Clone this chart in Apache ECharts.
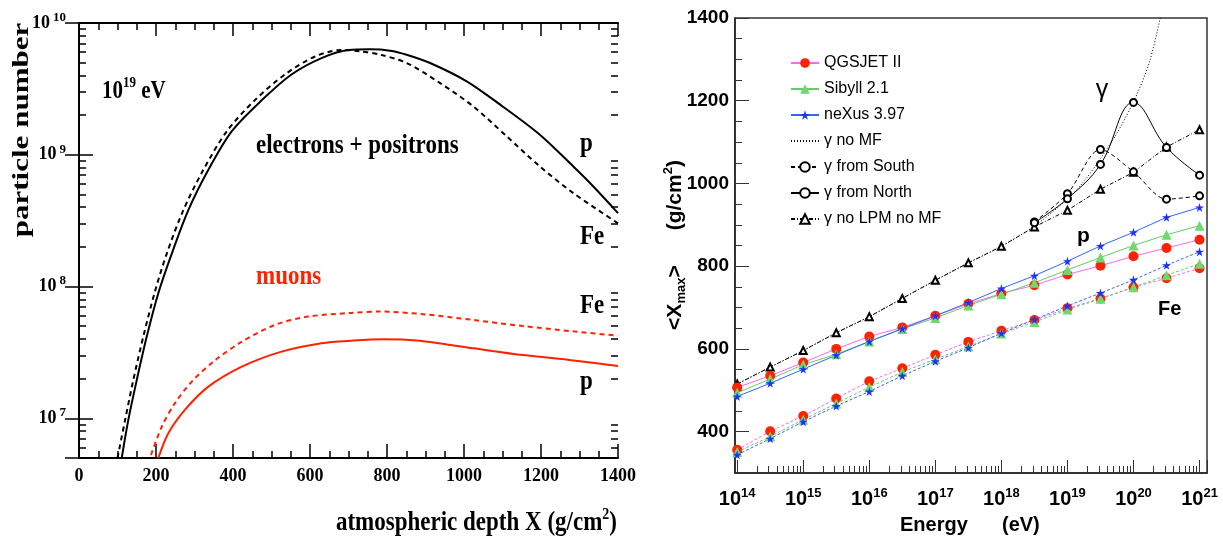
<!DOCTYPE html>
<html><head><meta charset="utf-8">
<script src="https://cdn.jsdelivr.net/npm/echarts@6/dist/echarts.min.js"></script>
<style>html,body{margin:0;padding:0;background:#fff}#c{width:1223px;height:539px}</style>
</head><body><div id="c"></div>
<script>
// ---------- Left panel: longitudinal profiles at 10^19 eV ----------
const depthEpP  = [111,128,150,176,206,241,284,336,397,475,552,630,700,756,808,851,912,1007,1094,1197,1284,1336,1400];
const nEpP      = [5.0e6,9.7e6,1.95e7,4.17e7,8.9e7,1.78e8,3.8e8,7.69e8,1.51e9,2.6e9,4.07e9,5.42e9,6.24e9,6.31e9,6.17e9,5.75e9,4.97e9,3.61e9,2.40e9,1.42e9,8.15e8,5.75e8,3.61e8];
const depthEpFe = [100,120,141,167,196,228,271,323,384,457,535,613,682,730,782,851,938,1024,1111,1197,1284,1400];
const nEpFe     = [5.0e6,9.8e6,1.95e7,4.17e7,8.9e7,1.78e8,3.8e8,7.69e8,1.51e9,2.6e9,4.07e9,5.57e9,6.24e9,6.1e9,5.75e9,4.97e9,3.50e9,2.33e9,1.38e9,8.15e8,5.12e8,3.02e8];
const depthMuFe = [187,215,249,293,353,422,509,596,708,782,894,1024,1154,1284,1400];
const nMuFe     = [5.27e6,8.65e6,1.30e7,1.90e7,2.75e7,3.80e7,5.12e7,5.92e7,6.31e7,6.46e7,6.17e7,5.58e7,5.01e7,4.57e7,4.23e7];
const depthMuP  = [206,232,275,336,423,526,630,712,790,877,1024,1154,1284,1400];
const nMuP      = [5.0e6,7.71e6,1.16e7,1.74e7,2.47e7,3.21e7,3.72e7,3.89e7,3.98e7,3.89e7,3.40e7,3.02e7,2.75e7,2.50e7];

// ---------- Right panel: <Xmax> vs energy ----------
const energy   = [1e14,3.162e14,1e15,3.162e15,1e16,3.162e16,1e17,3.162e17,1e18,3.162e18,1e19,3.162e19,1e20,3.162e20,1e21];
const qgsP     = [507,535,567,600,630,652,680,709,734,754,780,801,824,844,864];
const sibP     = [494,527,562,587,618,648,675,705,732,760,791,821,850,876,898];
const nexP     = [485,517,551,585,618,649,680,712,746,777,812,849,882,918,942];
const qgsFe    = [356,401,438,480,522,553,586,617,644,670,698,722,749,771,795];
const sibFe    = [351,388,429,468,508,544,575,606,637,665,695,721,749,778,806];
const nexFe    = [344,383,424,462,497,535,570,603,638,671,704,735,767,802,835];
const gNoLpm   = [515,556,596,639,678,722,766,808,848,895,935,986,1027,1088,1130];
const energyNoMF = [1e14,3.162e14,1e15,3.162e15,1e16,3.162e16,1e17,3.162e17,1e18,3.162e18,1e19,1.778e19,3.162e19,5.623e19,1e20,1.778e20,3.162e20];
const gNoMF    = [515,556,596,639,678,722,766,808,848,897,962,1005,1060,1122,1197,1298,1470];
const energyGamma = [3.162e18,1e19,3.162e19,1e20,3.162e20,1e21];
const gSouth   = [907,975,1082,1028,962,970];
const gNorth   = [905,963,1046,1196,1087,1020];
const legendNames = ['QGSJET II','Sibyll 2.1','neXus 3.97','γ no MF','γ from South','γ from North','γ no LPM no MF'];

const zip = (xs, ys) => xs.map((x, i) => [x, ys[i]]);
const minorLog = (lo, hi) => { const o = []; for (let d = Math.floor(lo); d <= Math.ceil(hi); d++) for (let k = 2; k <= 9; k++) { const v = d + Math.log10(k); if (v > lo && v < hi) o.push(v); } return o; };
const decadeLabel = v => { const l = Math.log10(v), r = Math.round(l); return Math.abs(l - r) > 1e-6 ? '' : '{b|10}{s|' + r + '}'; };
const plain = v => String(v);

const SERIF = 'Liberation Serif', SANS = 'Liberation Sans';
const RED = '#ff2200';
const STAR = 'path://M50,0 L61,35 L98,35 L68,57 L79,91 L50,70 L21,91 L32,57 L2,35 L39,35 Z';
const yLo = Math.log10(5e6), xLo = 13.967, xHi = 21.113;

const tickL = {inside: true, length: 14, lineStyle: {color: '#000', width: 1.5}};
const minL = {inside: true, length: 7, lineStyle: {color: '#000', width: 1.5}};
const curve = {smooth: 0.3, symbol: 'none', xAxisIndex: 0, yAxisIndex: 0};

const option = {
  animation: false,
  backgroundColor: '#fff',
  grid: [
    {left: 79, top: 23, width: 539, height: 435},
    {left: 735, top: 18, width: 472, height: 455, show: true, borderColor: '#333', borderWidth: 1.5}
  ],
  legend: {
    orient: 'vertical', left: 785, top: 50, itemWidth: 28, itemHeight: 12, itemGap: 10,
    selectedMode: false, data: legendNames,
    itemStyle: {borderWidth: 1},
    textStyle: {fontFamily: SANS, fontSize: 16, color: '#000', lineHeight: 14}
  },
  xAxis: [
    {gridIndex: 0, type: 'value', min: 0, max: 1400, interval: 200, position: 'bottom',
     axisLine: {lineStyle: {color: '#000', width: 2}}, axisTick: tickL,
     minorTick: {show: true, splitNumber: 4, length: 7, lineStyle: {color: '#000', width: 1.5}},
     splitLine: {show: false}, minorSplitLine: {show: false},
     axisLabel: {formatter: plain, fontFamily: SERIF, fontWeight: 'bold', fontSize: 18, color: '#000', margin: 8, lineHeight: 20}},
    {gridIndex: 0, type: 'value', min: 0, max: 1400, interval: 200, position: 'top',
     axisLine: {lineStyle: {color: '#000', width: 2}}, axisTick: {inside: true, length: 13, lineStyle: {color: '#000', width: 1.5}},
     minorTick: {show: true, splitNumber: 4, length: 7, lineStyle: {color: '#000', width: 1.5}},
     splitLine: {show: false}, minorSplitLine: {show: false}, axisLabel: {show: false}},
    {gridIndex: 1, type: 'log', logBase: 10, min: Math.pow(10, xLo), max: Math.pow(10, xHi), position: 'bottom',
     axisLine: {show: true, lineStyle: {color: '#222', width: 1.5}},
     axisTick: {inside: true, length: 13, lineStyle: {color: '#333', width: 1}},
     splitLine: {show: false},
     axisLabel: {interval: 0, margin: 14, formatter: decadeLabel, color: '#000',
       rich: {b: {fontFamily: SANS, fontWeight: 'bold', fontSize: 20, lineHeight: 24, color: '#000'},
              s: {fontFamily: SANS, fontWeight: 'bold', fontSize: 13, lineHeight: 13, verticalAlign: 'top', color: '#000'}}}},
    {gridIndex: 1, type: 'value', min: xLo, max: xHi, position: 'bottom',
     axisLine: {show: false}, splitLine: {show: false}, axisLabel: {show: false},
     axisTick: {inside: true, length: 7, customValues: minorLog(xLo, xHi), lineStyle: {color: '#333', width: 1}}}
  ],
  yAxis: [
    {gridIndex: 0, type: 'log', logBase: 10, min: 5e6, max: 1e10, position: 'left',
     axisLine: {lineStyle: {color: '#000', width: 2}}, axisTick: tickL, splitLine: {show: false},
     axisLabel: {interval: 0, margin: 13, formatter: decadeLabel,
       rich: {b: {fontFamily: SERIF, fontWeight: 'bold', fontSize: 18, lineHeight: 24, color: '#000'},
              s: {fontFamily: SERIF, fontWeight: 'bold', fontSize: 13, lineHeight: 13, verticalAlign: 'top', padding: [0, 0, 0, 3], color: '#000'}}}},
    {gridIndex: 0, type: 'log', logBase: 10, min: 5e6, max: 1e10, position: 'right',
     axisLine: {lineStyle: {color: '#000', width: 2}}, axisTick: tickL, splitLine: {show: false}, axisLabel: {show: false}},
    {gridIndex: 0, type: 'value', min: yLo, max: 10, position: 'left', axisLine: {show: false}, splitLine: {show: false},
     axisLabel: {show: false}, axisTick: Object.assign({customValues: minorLog(yLo, 10)}, minL)},
    {gridIndex: 0, type: 'value', min: yLo, max: 10, position: 'right', axisLine: {show: false}, splitLine: {show: false},
     axisLabel: {show: false}, axisTick: Object.assign({customValues: minorLog(yLo, 10)}, minL)},
    {gridIndex: 1, type: 'value', min: 300, max: 1400, position: 'left',
     axisLine: {show: true, lineStyle: {color: '#222', width: 1.5}}, splitLine: {show: false},
     axisTick: {inside: true, length: 14, customValues: [400,600,800,1000,1200,1400], lineStyle: {color: '#333', width: 1}},
     axisLabel: {customValues: [400,600,800,1000,1200,1400], formatter: plain, margin: 6, fontFamily: SANS, fontWeight: 'bold', fontSize: 19, color: '#000'}},
    {gridIndex: 1, type: 'value', min: 300, max: 1400, interval: 50, position: 'left',
     axisLine: {show: false}, splitLine: {show: false}, axisLabel: {show: false},
     axisTick: {inside: true, length: 7, lineStyle: {color: '#333', width: 1}}}
  ],
  series: [
    // left panel
    Object.assign({type: 'line', name: 'e± p', data: zip(depthEpP, nEpP), lineStyle: {color: '#000', width: 2}}, curve),
    Object.assign({type: 'line', name: 'e± Fe', data: zip(depthEpFe, nEpFe), lineStyle: {color: '#000', width: 2, type: [5, 4]}}, curve),
    Object.assign({type: 'line', name: 'μ Fe', data: zip(depthMuFe, nMuFe), lineStyle: {color: RED, width: 2, type: [5, 4]}}, curve),
    Object.assign({type: 'line', name: 'μ p', data: zip(depthMuP, nMuP), lineStyle: {color: RED, width: 2}}, curve),
    // right panel - gamma
    {type: 'line', name: 'γ no MF', xAxisIndex: 2, yAxisIndex: 4, data: zip(energyNoMF, gNoMF), smooth: 0.3,
     symbol: 'circle', showSymbol: false, symbolSize: 0,
     lineStyle: {color: '#000', width: 1, type: [1, 2]}, itemStyle: {color: 'rgba(0,0,0,0)'}},
    {type: 'line', name: 'γ no LPM no MF', xAxisIndex: 2, yAxisIndex: 4, data: zip(energy, gNoLpm), symbol: 'emptyTriangle', symbolSize: 7,
     lineStyle: {color: '#000', width: 1, type: [4, 2, 1, 2]}, itemStyle: {color: '#000', borderWidth: 1}},
    {type: 'line', name: 'γ from South', xAxisIndex: 2, yAxisIndex: 4, data: zip(energyGamma, gSouth), smooth: 0.3, symbol: 'emptyCircle', symbolSize: 7,
     lineStyle: {color: '#000', width: 1, type: [4, 3]}, itemStyle: {color: '#000', borderWidth: 1}},
    {type: 'line', name: 'γ from North', xAxisIndex: 2, yAxisIndex: 4, data: zip(energyGamma, gNorth), smooth: 0.4, symbol: 'emptyCircle', symbolSize: 7,
     lineStyle: {color: '#000', width: 1}, itemStyle: {color: '#000', borderWidth: 1}},
    // right panel - models, iron (dashed)
    {type: 'line', name: 'QGSJET II Fe', xAxisIndex: 2, yAxisIndex: 4, data: zip(energy, qgsFe), symbol: 'circle', symbolSize: 10,
     lineStyle: {color: '#ff66ff', width: 1, type: [3, 2]}, itemStyle: {color: RED}},
    {type: 'line', name: 'Sibyll 2.1 Fe', xAxisIndex: 2, yAxisIndex: 4, data: zip(energy, sibFe), symbol: 'triangle', symbolSize: 10,
     lineStyle: {color: '#66cc66', width: 1, type: [3, 2]}, itemStyle: {color: '#6fd86f'}},
    {type: 'line', name: 'neXus 3.97 Fe', xAxisIndex: 2, yAxisIndex: 4, data: zip(energy, nexFe), symbol: STAR, symbolSize: 9,
     lineStyle: {color: '#3366ff', width: 1, type: [3, 2]}, itemStyle: {color: '#1a33ff'}},
    // right panel - models, proton (solid)
    {type: 'line', name: 'QGSJET II', xAxisIndex: 2, yAxisIndex: 4, data: zip(energy, qgsP), symbol: 'circle', symbolSize: 10,
     lineStyle: {color: '#ff66ff', width: 1}, itemStyle: {color: RED}},
    {type: 'line', name: 'Sibyll 2.1', xAxisIndex: 2, yAxisIndex: 4, data: zip(energy, sibP), symbol: 'triangle', symbolSize: 10,
     lineStyle: {color: '#66cc66', width: 1}, itemStyle: {color: '#6fd86f'}},
    {type: 'line', name: 'neXus 3.97', xAxisIndex: 2, yAxisIndex: 4, data: zip(energy, nexP), symbol: STAR, symbolSize: 9,
     lineStyle: {color: '#3366ff', width: 1}, itemStyle: {color: '#1a33ff'}}
  ],
  graphic: [
    {type: 'text', x: 22, y: 130, rotation: Math.PI / 2, scaleX: 1.35,
     style: {text: 'particle number', font: 'bold 23px "Liberation Serif"', fill: '#000', align: 'center', verticalAlign: 'middle'}},
    {type: 'text', x: 102, y: 91, scaleY: 1.2,
     style: {text: '{b|10}{s|19}{b| eV}', align: 'left', verticalAlign: 'middle',
       rich: {b: {font: 'bold 21px "Liberation Serif"', lineHeight: 26, fill: '#000'},
              s: {font: 'bold 13px "Liberation Serif"', lineHeight: 13, verticalAlign: 'top', fill: '#000'}}}},
    {type: 'text', x: 256, y: 146, scaleY: 1.22,
     style: {text: 'electrons + positrons', font: 'bold 23px "Liberation Serif"', fill: '#000', align: 'left', verticalAlign: 'middle'}},
    {type: 'text', x: 256, y: 277, scaleY: 1.22,
     style: {text: 'muons', font: 'bold 23px "Liberation Serif"', fill: RED, align: 'left', verticalAlign: 'middle'}},
    {type: 'text', x: 580, y: 144, scaleY: 1.22, style: {text: 'p', font: 'bold 23px "Liberation Serif"', fill: '#000', verticalAlign: 'middle'}},
    {type: 'text', x: 580, y: 237, scaleY: 1.22, style: {text: 'Fe', font: 'bold 23px "Liberation Serif"', fill: '#000', verticalAlign: 'middle'}},
    {type: 'text', x: 580, y: 306, scaleY: 1.22, style: {text: 'Fe', font: 'bold 23px "Liberation Serif"', fill: '#000', verticalAlign: 'middle'}},
    {type: 'text', x: 580, y: 382, scaleY: 1.22, style: {text: 'p', font: 'bold 23px "Liberation Serif"', fill: '#000', verticalAlign: 'middle'}},
    {type: 'text', x: 617, y: 523, scaleY: 1.18,
     style: {text: '{t|atmospheric depth X (g/cm}{s|2}{t|)}', align: 'right', verticalAlign: 'middle',
       rich: {t: {font: 'bold 23px "Liberation Serif"', lineHeight: 28, fill: '#000'},
              s: {font: 'bold 14px "Liberation Serif"', lineHeight: 14, verticalAlign: 'top', fill: '#000'}}}},
    // right panel texts
    {type: 'text', x: 675, y: 245, rotation: Math.PI / 2,
     style: {text: '{t|<X}{u|max}{t|>      (g/cm}{p|2}{t|)}', align: 'center', verticalAlign: 'middle',
       rich: {t: {font: 'bold 21px "Liberation Sans"', lineHeight: 26, fill: '#000'},
              u: {font: 'bold 13px "Liberation Sans"', lineHeight: 13, verticalAlign: 'bottom', fill: '#000'},
              p: {font: 'bold 13px "Liberation Sans"', lineHeight: 13, verticalAlign: 'top', fill: '#000'}}}},
    {type: 'text', x: 900, y: 525, style: {text: 'Energy', font: 'bold 20px "Liberation Sans"', fill: '#000', verticalAlign: 'middle'}},
    {type: 'text', x: 1002, y: 525, style: {text: '(eV)', font: 'bold 20px "Liberation Sans"', fill: '#000', verticalAlign: 'middle'}},
    {type: 'text', x: 1102, y: 90, style: {text: 'γ', font: '25px "Liberation Sans"', fill: '#000', align: 'center', verticalAlign: 'middle'}},
    {type: 'text', x: 1077, y: 236, style: {text: 'p', font: 'bold 21px "Liberation Sans"', fill: '#000', verticalAlign: 'middle'}},
    {type: 'text', x: 1158, y: 309, style: {text: 'Fe', font: 'bold 20px "Liberation Sans"', fill: '#000', verticalAlign: 'middle'}}
  ]
};
const chart = echarts.init(document.getElementById('c'), null, {renderer: 'canvas'});
chart.setOption(option);
</script>
</body></html>
